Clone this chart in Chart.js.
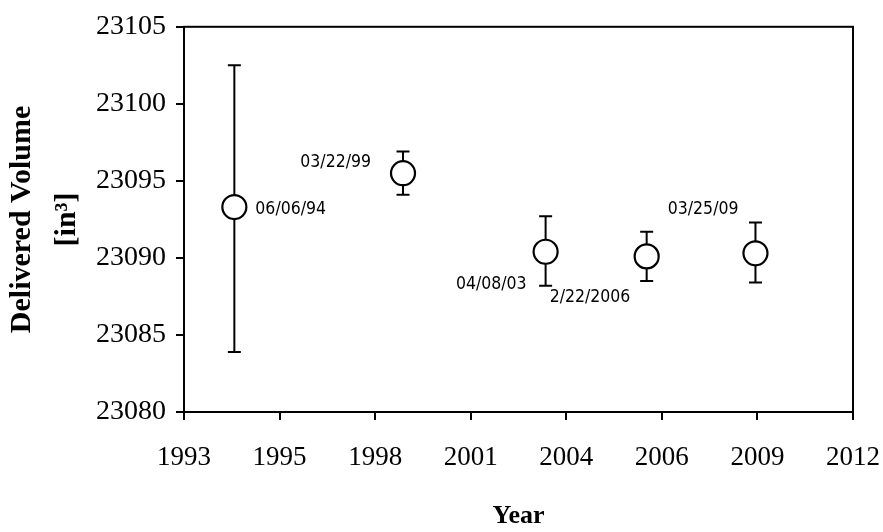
<!DOCTYPE html>
<html>
<head>
<meta charset="utf-8">
<script src="https://cdn.jsdelivr.net/npm/chart.js@4"></script>
<style>
  body { margin: 0; background: #fff; }
</style>
</head>
<body>
<canvas id="chart" width="883" height="532"></canvas>
<script>
// measurement dates and delivered volumes [in^3]
const dateLabels = ['06/06/94', '03/22/99', '04/08/03', '2/22/2006', '03/25/09'];
const years = [1994.43, 1999.22, 2003.27, 2006.14, 2009.23];
const volumes = [23093.3, 23095.5, 23090.4, 23090.1, 23090.3];
const volHigh = [23102.5, 23096.9, 23092.7, 23091.7, 23092.3];
const volLow = [23083.9, 23094.1, 23088.2, 23088.5, 23088.4];
const xTickLabels = ['1993', '1995', '1998', '2001', '2004', '2006', '2009', '2012'];
const yMin = 23080, yMax = 23105, yStep = 5;
const xMin = 1993, xMax = 2012;

// where each date label sits relative to its point
const labelPlacement = [
  { dx: 21, dy: 2, align: 'left' },
  { dx: -32, dy: -11, align: 'right' },
  { dx: -19, dy: 33, align: 'right' },
  { dx: -97, dy: 41, align: 'left' },
  { dx: -17, dy: -44, align: 'right' }
];

const frame = {
  id: 'frame',
  beforeDatasetsDraw(chart) {
    const { ctx, chartArea: a } = chart;
    ctx.save();
    ctx.strokeStyle = '#000';
    ctx.lineWidth = 2;
    ctx.strokeRect(a.left, a.top, a.right - a.left, a.bottom - a.top);
    ctx.restore();
  }
};

const errorBars = {
  id: 'errorBars',
  beforeDatasetsDraw(chart) {
    const { ctx, scales: { x, y } } = chart;
    ctx.save();
    ctx.strokeStyle = '#000';
    ctx.lineWidth = 2;
    years.forEach((yr, i) => {
      const px = x.getPixelForValue(yr);
      const top = y.getPixelForValue(volHigh[i]);
      const bot = y.getPixelForValue(volLow[i]);
      ctx.beginPath();
      ctx.moveTo(px, top); ctx.lineTo(px, bot);
      ctx.moveTo(px - 6.5, top); ctx.lineTo(px + 6.5, top);
      ctx.moveTo(px - 6.5, bot); ctx.lineTo(px + 6.5, bot);
      ctx.stroke();
    });
    ctx.restore();
  }
};

const dateText = {
  id: 'dateText',
  afterDatasetsDraw(chart) {
    const { ctx } = chart;
    const pts = chart.getDatasetMeta(0).data;
    ctx.save();
    ctx.fillStyle = '#000';
    ctx.font = '17.5px "DejaVu Sans Condensed", "DejaVu Sans", sans-serif';
    ctx.textBaseline = 'middle';
    pts.forEach((p, i) => {
      const pl = labelPlacement[i];
      ctx.textAlign = pl.align;
      ctx.fillText(dateLabels[i], p.x + pl.dx, p.y + pl.dy);
    });
    ctx.restore();
  }
};

new Chart(document.getElementById('chart'), {
  type: 'scatter',
  data: {
    datasets: [{
      data: years.map((yr, i) => ({ x: yr, y: volumes[i] })),
      pointRadius: 12,
      pointHoverRadius: 12,
      pointBackgroundColor: '#fff',
      pointBorderColor: '#000',
      pointBorderWidth: 2.2,
      showLine: false
    }]
  },
  options: {
    responsive: false,
    animation: false,
    events: [],
    layout: { padding: { top: 19, right: 30, left: 0, bottom: 0 } },
    plugins: { legend: { display: false }, tooltip: { enabled: false } },
    scales: {
      x: {
        type: 'linear',
        min: xMin,
        max: xMax,
        afterBuildTicks: s => {
          s.ticks = xTickLabels.map((l, i) => ({ value: xMin + i * (xMax - xMin) / (xTickLabels.length - 1) }));
        },
        afterFit: s => { s.height = 120; s.paddingLeft = 0; s.paddingRight = 0; },
        grid: { drawOnChartArea: false, drawTicks: true, tickLength: 8, color: '#000', lineWidth: 2 },
        border: { display: true, color: '#000', width: 2 },
        ticks: {
          autoSkip: false,
          maxRotation: 0,
          padding: 22,
          color: '#000',
          font: { family: '"Liberation Serif", serif', size: 27 },
          callback: (v, i) => xTickLabels[i]
        },
        title: {
          display: true,
          text: 'Year',
          color: '#000',
          padding: 0,
          font: { family: '"Liberation Serif", serif', size: 26, weight: 'bold' }
        }
      },
      y: {
        min: yMin,
        max: yMax,
        afterFit: s => { s.width = 184; },
        grid: { drawOnChartArea: false, drawTicks: true, tickLength: 8, color: '#000', lineWidth: 2 },
        border: { display: true, color: '#000', width: 2 },
        ticks: {
          stepSize: yStep,
          padding: 10,
          color: '#000',
          font: { family: '"Liberation Serif", serif', size: 28 },
          callback: v => String(v)
        },
        title: {
          display: true,
          text: ['Delivered Volume', '[in\u00B3]'],
          color: '#000',
          padding: 0,
          font: { family: '"Liberation Serif", serif', size: 30, weight: 'bold', lineHeight: 1.5 }
        }
      }
    }
  },
  plugins: [frame, errorBars, dateText]
});
</script>
</body>
</html>
